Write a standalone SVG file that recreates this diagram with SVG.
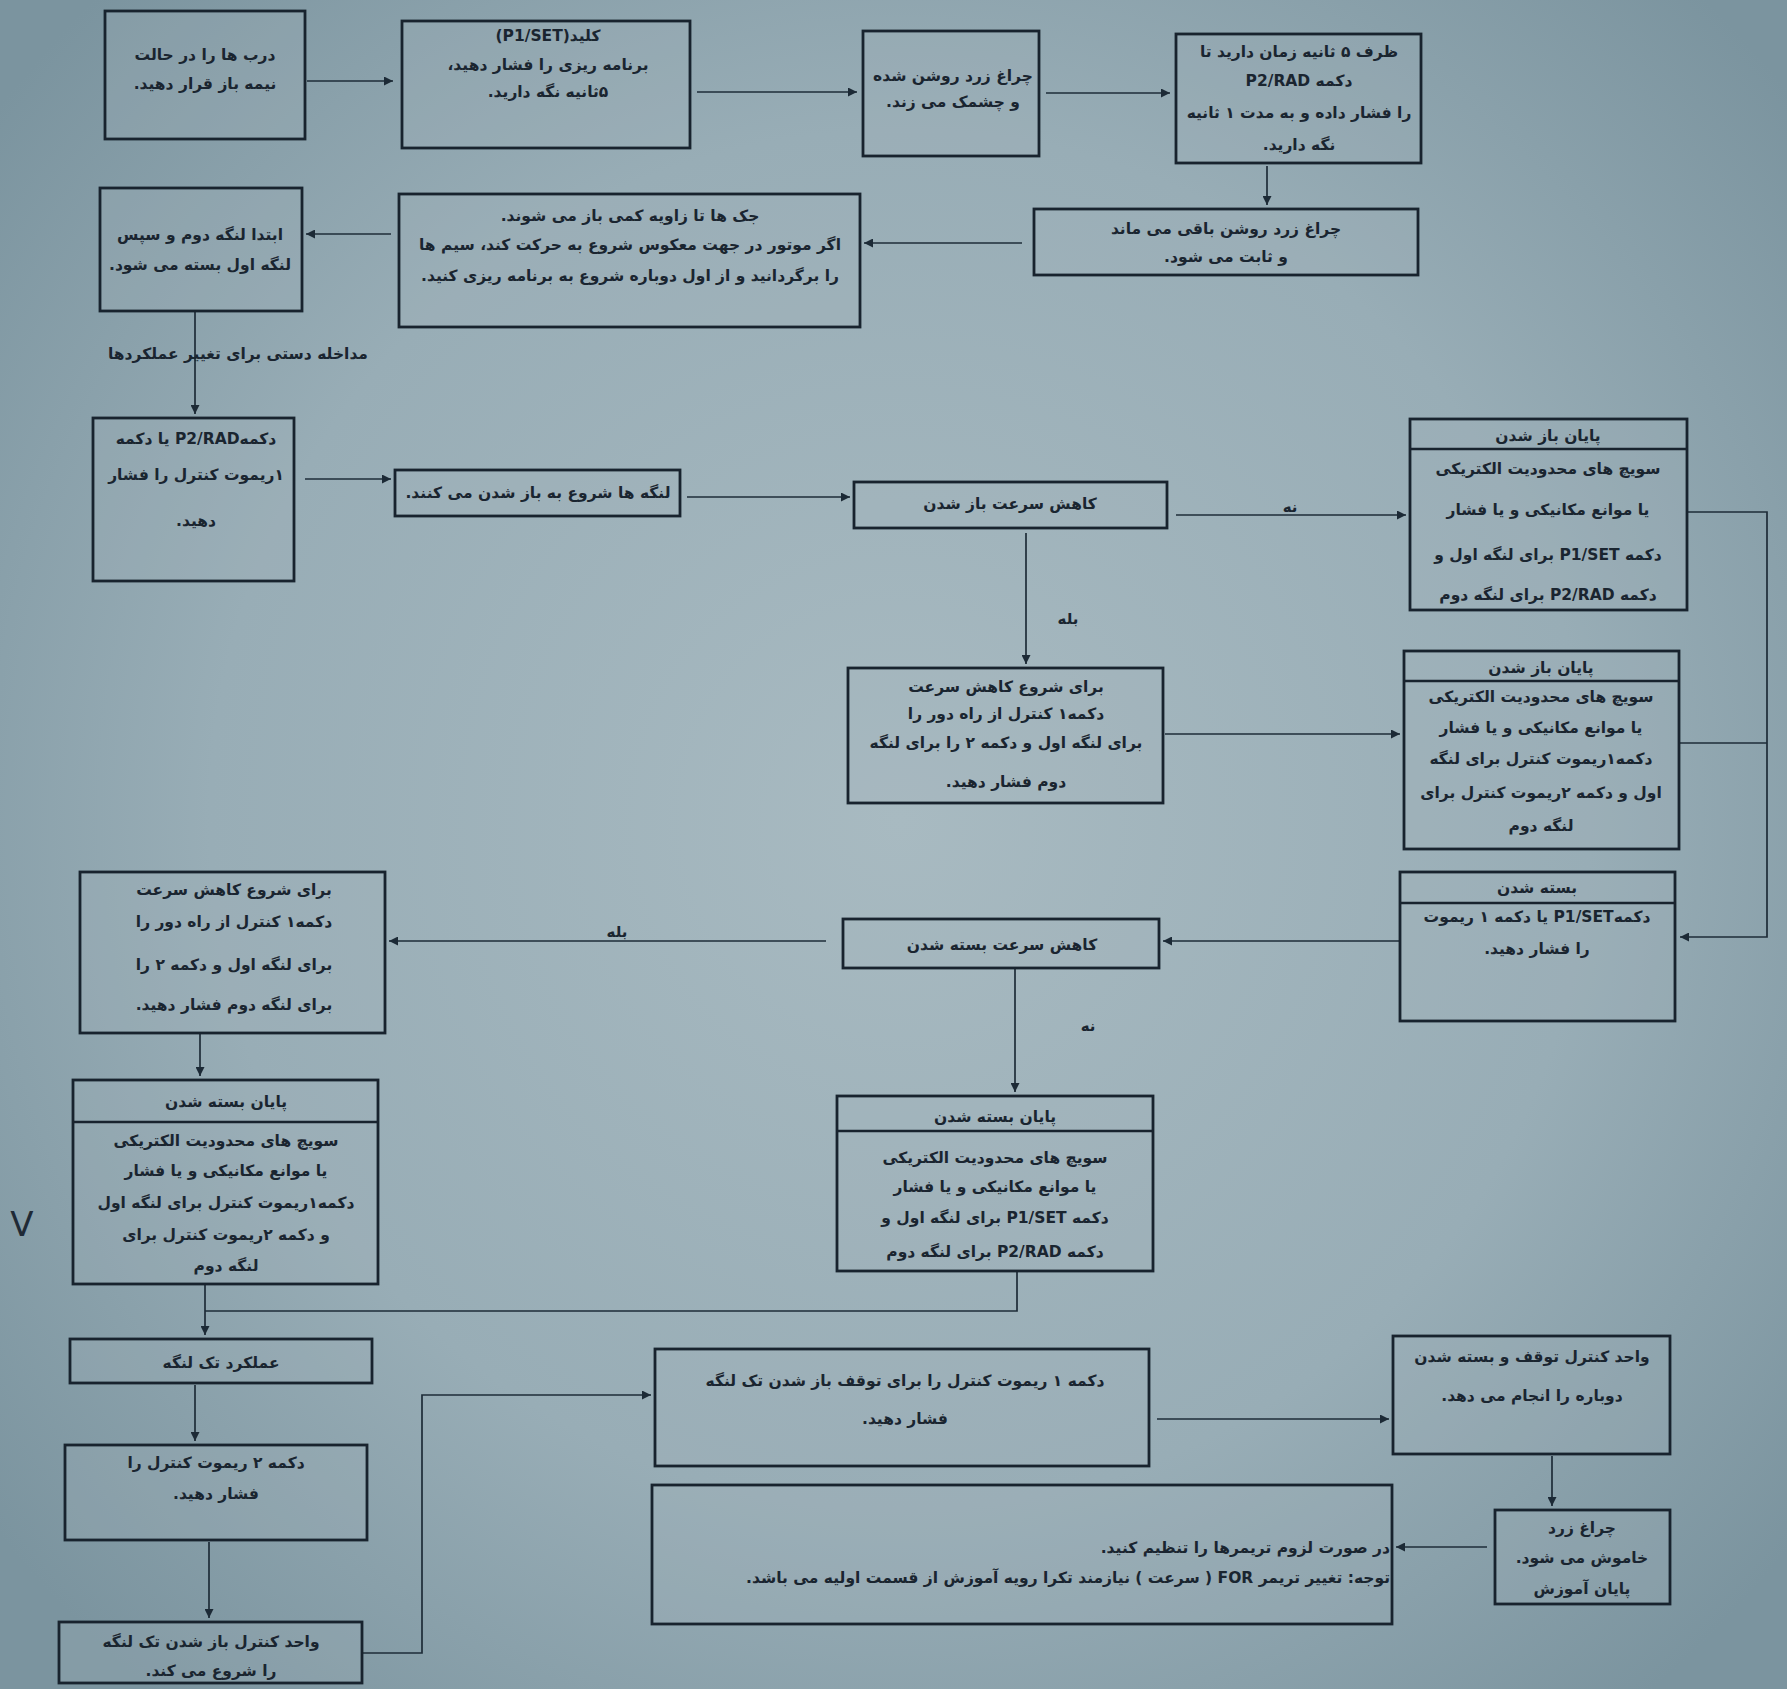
<svg xmlns="http://www.w3.org/2000/svg" width="1787" height="1689" viewBox="0 0 1787 1689">
<defs>
<radialGradient id="bg" cx="900" cy="820" r="1150" gradientUnits="userSpaceOnUse">
<stop offset="0" stop-color="#a8bac1"/>
<stop offset="0.6" stop-color="#98adb6"/>
<stop offset="1" stop-color="#7b949f"/>
</radialGradient>
<marker id="ah" viewBox="0 0 10 10" refX="10" refY="5" markerWidth="10" markerHeight="9" markerUnits="userSpaceOnUse" orient="auto">
<path d="M0,0 L10,5 L0,10 z" fill="#1c2a36"/>
</marker>
<style>
.box{fill:#a2b5bd;fill-opacity:0.25;stroke:#18232e;stroke-width:2.8}
.div{stroke:#18232e;stroke-width:2.4}
.c{fill:none;stroke:#1e2c38;stroke-width:1.7}
.a{marker-end:url(#ah)}
text{font-family:"DejaVu Sans",sans-serif;font-size:15.5px;font-weight:bold;fill:#1a2530;direction:rtl;text-anchor:middle}
.lbl{font-size:15px}
.chk{font-family:"DejaVu Sans",sans-serif;font-weight:normal;font-size:34px;fill:#1f2a36;direction:ltr}
</style>
</defs>
<rect x="0" y="0" width="1787" height="1689" fill="url(#bg)"/>

<g id="connectors">
<line class="c a" x1="307" y1="81" x2="393" y2="81"/>
<line class="c a" x1="697" y1="92" x2="857" y2="92"/>
<line class="c a" x1="1046" y1="93" x2="1170" y2="93"/>
<line class="c a" x1="1267" y1="166" x2="1267" y2="205"/>
<line class="c a" x1="1022" y1="243" x2="864" y2="243"/>
<line class="c a" x1="391" y1="234" x2="306" y2="234"/>
<line class="c a" x1="195" y1="311" x2="195" y2="414"/>
<line class="c a" x1="305" y1="479" x2="391" y2="479"/>
<line class="c a" x1="687" y1="497" x2="850" y2="497"/>
<line class="c a" x1="1176" y1="515" x2="1406" y2="515"/>
<line class="c a" x1="1026" y1="533" x2="1026" y2="664"/>
<line class="c a" x1="1165" y1="734" x2="1400" y2="734"/>
<polyline class="c a" points="1687,512 1767,512 1767,937 1680,937"/>
<line class="c" x1="1679" y1="743" x2="1767" y2="743"/>
<line class="c a" x1="1400" y1="941" x2="1163" y2="941"/>
<line class="c a" x1="826" y1="941" x2="389" y2="941"/>
<line class="c a" x1="1015" y1="968" x2="1015" y2="1092"/>
<line class="c a" x1="200" y1="1033" x2="200" y2="1076"/>
<line class="c a" x1="205" y1="1284" x2="205" y2="1335"/>
<polyline class="c" points="1017,1271 1017,1311 205,1311"/>
<line class="c a" x1="195" y1="1385" x2="195" y2="1441"/>
<line class="c a" x1="209" y1="1542" x2="209" y2="1618"/>
<polyline class="c a" points="362,1653 422,1653 422,1395 651,1395"/>
<line class="c a" x1="1157" y1="1419" x2="1389" y2="1419"/>
<line class="c a" x1="1552" y1="1456" x2="1552" y2="1506"/>
<line class="c a" x1="1487" y1="1547" x2="1396" y2="1547"/>
<text class="lbl" x="1290" y="512">نه</text>
<text class="lbl" x="1068" y="624">بله</text>
<text class="lbl" x="617" y="937">بله</text>
<text class="lbl" x="1088" y="1031">نه</text>
<text x="238" y="359">مداخله دستی برای تغییر عملکردها</text>
</g>

<g id="nA"><rect class="box" x="105" y="11" width="200" height="128"/>
<text x="205" y="60">درب ها را در حالت</text><text x="205" y="89">نیمه باز قرار دهید.</text></g>

<g id="nB"><rect class="box" x="402" y="21" width="288" height="127"/>
<text x="548" y="41">کلید(P1/SET)</text><text x="548" y="70">برنامه ریزی را فشار دهید،</text><text x="548" y="97">۵ثانیه نگه دارید.</text></g>

<g id="nC"><rect class="box" x="863" y="31" width="176" height="125"/>
<text x="953" y="81">چراغ زرد روشن شده</text><text x="953" y="107">و چشمک می زند.</text></g>

<g id="nD"><rect class="box" x="1176" y="34" width="245" height="129"/>
<text x="1299" y="57">ظرف ۵ ثانیه زمان دارید تا</text><text x="1299" y="86">دکمه P2/RAD</text><text x="1299" y="118">را فشار داده و به مدت ۱ ثانیه</text><text x="1299" y="150">نگه دارید.</text></g>

<g id="nE"><rect class="box" x="1034" y="209" width="384" height="66"/>
<text x="1226" y="234">چراغ زرد روشن باقی می ماند</text><text x="1226" y="262">و ثابت می شود.</text></g>

<g id="nF"><rect class="box" x="399" y="194" width="461" height="133"/>
<text x="630" y="221">جک ها تا زاویه کمی باز می شوند.</text><text x="630" y="250">اگر موتور در جهت معکوس شروع به حرکت کند، سیم ها</text><text x="630" y="281">را برگردانید و از اول دوباره شروع به برنامه ریزی کنید.</text></g>

<g id="nG"><rect class="box" x="100" y="188" width="202" height="123"/>
<text x="200" y="240">ابتدا لنگه دوم و سپس</text><text x="200" y="270">لنگه اول بسته می شود.</text></g>

<g id="nH"><rect class="box" x="93" y="418" width="201" height="163"/>
<text x="196" y="444">دکمهP2/RAD یا دکمه</text><text x="196" y="480">۱ریموت کنترل را فشار</text><text x="196" y="526">دهید.</text></g>

<g id="nI"><rect class="box" x="395" y="470" width="285" height="46"/>
<text x="538" y="498">لنگه ها شروع به باز شدن می کنند.</text></g>

<g id="nJ"><rect class="box" x="854" y="482" width="313" height="46"/>
<text x="1010" y="509">کاهش سرعت باز شدن</text></g>

<g id="nK"><rect class="box" x="1410" y="419" width="277" height="191"/><line class="div" x1="1410" y1="449" x2="1687" y2="449"/>
<text x="1548" y="441">پایان باز شدن</text><text x="1548" y="474">سویچ های محدودیت الکتریکی</text><text x="1548" y="515">یا موانع  مکانیکی و یا فشار</text><text x="1548" y="560">دکمه P1/SET برای لنگه اول و</text><text x="1548" y="600">دکمه P2/RAD برای لنگه دوم</text></g>

<g id="nL"><rect class="box" x="848" y="668" width="315" height="135"/>
<text x="1006" y="692">برای شروع کاهش سرعت</text><text x="1006" y="719">دکمه۱ کنترل از راه دور را</text><text x="1006" y="748">برای لنگه اول و دکمه ۲ را برای لنگه</text><text x="1006" y="787">دوم فشار دهید.</text></g>

<g id="nM"><rect class="box" x="1404" y="651" width="275" height="198"/><line class="div" x1="1404" y1="681" x2="1679" y2="681"/>
<text x="1541" y="673">پایان باز شدن</text><text x="1541" y="702">سویچ های محدودیت الکتریکی</text><text x="1541" y="733">یا موانع  مکانیکی و یا فشار</text><text x="1541" y="764">دکمه۱ریموت کنترل برای لنگه</text><text x="1541" y="798">اول و دکمه ۲ریموت کنترل برای</text><text x="1541" y="831">لنگه دوم</text></g>

<g id="nN"><rect class="box" x="1400" y="872" width="275" height="149"/><line class="div" x1="1400" y1="903" x2="1675" y2="903"/>
<text x="1537" y="893">بسته شدن</text><text x="1537" y="922">دکمهP1/SET یا دکمه ۱ ریموت</text><text x="1537" y="954">را فشار دهید.</text></g>

<g id="nO"><rect class="box" x="843" y="919" width="316" height="49"/>
<text x="1002" y="950">کاهش سرعت بسته شدن</text></g>

<g id="nP"><rect class="box" x="80" y="872" width="305" height="161"/>
<text x="234" y="895">برای شروع کاهش سرعت</text><text x="234" y="927">دکمه۱ کنترل از راه دور را</text><text x="234" y="970">برای لنگه اول و دکمه ۲ را</text><text x="234" y="1010">برای لنگه دوم فشار دهید.</text></g>

<g id="nQ1"><rect class="box" x="73" y="1080" width="305" height="204"/><line class="div" x1="73" y1="1122" x2="378" y2="1122"/>
<text x="226" y="1107">پایان بسته شدن</text><text x="226" y="1146">سویچ های محدودیت الکتریکی</text><text x="226" y="1176">یا موانع  مکانیکی و یا فشار</text><text x="226" y="1208">دکمه۱ریموت کنترل برای لنگه اول</text><text x="226" y="1240">و دکمه ۲ریموت کنترل برای</text><text x="226" y="1271">لنگه دوم</text></g>

<g id="nQ2"><rect class="box" x="837" y="1096" width="316" height="175"/><line class="div" x1="837" y1="1131" x2="1153" y2="1131"/>
<text x="995" y="1122">پایان بسته شدن</text><text x="995" y="1163">سویچ های محدودیت الکتریکی</text><text x="995" y="1192">یا موانع  مکانیکی و یا فشار</text><text x="995" y="1223">دکمه P1/SET برای لنگه اول و</text><text x="995" y="1257">دکمه P2/RAD برای لنگه دوم</text></g>

<g id="nS"><rect class="box" x="70" y="1339" width="302" height="44"/>
<text x="221" y="1368">عملکرد تک لنگه</text></g>

<g id="nT"><rect class="box" x="65" y="1445" width="302" height="95"/>
<text x="216" y="1468">دکمه ۲ ریموت کنترل را</text><text x="216" y="1499">فشار دهید.</text></g>

<g id="nU"><rect class="box" x="59" y="1622" width="303" height="61"/>
<text x="211" y="1647">واحد کنترل باز شدن تک لنگه</text><text x="211" y="1676">را شروع می کند.</text></g>

<g id="nV"><rect class="box" x="655" y="1349" width="494" height="117"/>
<text x="905" y="1386">دکمه ۱ ریموت کنترل را برای توقف باز شدن تک لنگه</text><text x="905" y="1424">فشار دهید.</text></g>

<g id="nW"><rect class="box" x="1393" y="1336" width="277" height="118"/>
<text x="1532" y="1362">واحد کنترل توقف و بسته شدن</text><text x="1532" y="1401">دوباره را انجام می دهد.</text></g>

<g id="nX"><rect class="box" x="1495" y="1510" width="175" height="94"/>
<text x="1582" y="1533">چراغ زرد</text><text x="1582" y="1563">خاموش می شود.</text><text x="1582" y="1594">پایان آموزش</text></g>

<g id="nY"><rect class="box" x="652" y="1485" width="740" height="139"/>
<text x="1390" y="1553" style="text-anchor:start">در صورت لزوم تریمرها را تنظیم کنید.</text><text x="1390" y="1583" style="text-anchor:start">توجه: تغییر تریمر FOR ( سرعت ) نیازمند تکرا رویه آموزش از قسمت اولیه می باشد.</text></g>

<text class="chk" x="22" y="1236">V</text>
</svg>
